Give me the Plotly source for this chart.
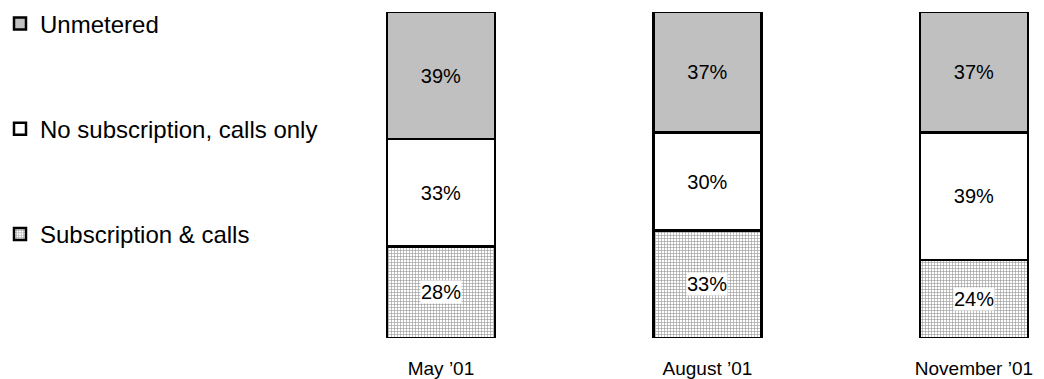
import plotly.graph_objects as go

# Survey periods and share of respondents by tariff type (percent)
periods = ["May \u201901", "August \u201901", "November \u201901"]
subscription_calls = [28, 33, 24]
no_subscription = [33, 30, 39]
unmetered = [39, 37, 37]

FONT = "Arial, Liberation Sans, sans-serif"
BAR_WIDTH = 0.405
OUTLINE = dict(color="black", width=2.5)

series = [
    ("Subscription & calls", subscription_calls, 3,
     dict(color="white", line=OUTLINE,
          pattern=dict(shape="+", size=3, solidity=0.4,
                       fgcolor="#404040", bgcolor="white", fillmode="overlay"))),
    ("No subscription, calls only", no_subscription, 2,
     dict(color="white", line=OUTLINE)),
    ("Unmetered", unmetered, 1,
     dict(color="#c0c0c0", line=OUTLINE)),
]

fig = go.Figure()
for i, (name, values, rank, marker) in enumerate(series):
    patterned = "pattern" in marker
    fig.add_trace(go.Bar(
        name=name,
        x=periods,
        y=values,
        width=BAR_WIDTH,
        marker=marker,
        legendgroup=f"g{i}",
        legendrank=rank,
        text=None if patterned else [f"{v}%" for v in values],
        textposition="inside",
        insidetextanchor="middle",
        textfont=dict(family=FONT, size=20, color="black"),
        hoverinfo="skip",
    ))

# Labels on the patterned segment sit on a white box
for p, v in zip(periods, subscription_calls):
    fig.add_annotation(
        x=p, y=v / 2, text=f"{v}%", showarrow=False,
        font=dict(family=FONT, size=20, color="black"),
        bgcolor="white", borderpad=0,
    )

fig.update_layout(
    barmode="stack",
    width=1044, height=379,
    margin=dict(l=300, r=0, t=12, b=41, autoexpand=False),
    paper_bgcolor="white", plot_bgcolor="white",
    font=dict(family=FONT, color="black"),
    legend=dict(
        xref="container", yref="container",
        x=0, y=0.996, xanchor="left", yanchor="top",
        traceorder="grouped", tracegroupgap=71, maxheight=379,
        font=dict(family=FONT, size=24, color="black"),
        itemclick=False, itemdoubleclick=False,
    ),
    xaxis=dict(
        range=[-0.529, 2.263], showgrid=False, zeroline=False, showline=False,
        ticks="outside", ticklen=13, tickcolor="rgba(0,0,0,0)",
        tickfont=dict(family=FONT, size=19, color="black"),
        fixedrange=True,
    ),
    yaxis=dict(
        range=[0, 100], visible=False, fixedrange=True,
    ),
)

fig.write_html("out.html")
